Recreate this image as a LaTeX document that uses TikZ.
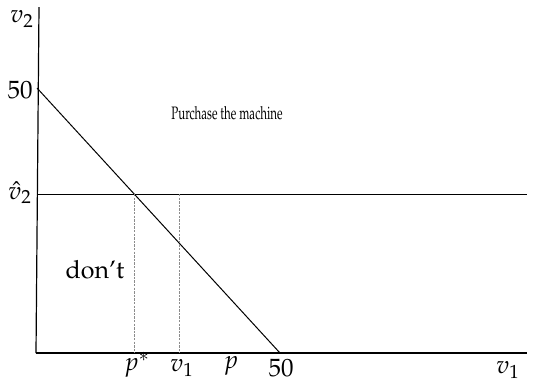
\documentclass[tikz,border=0pt]{standalone}
\usepackage[T1]{fontenc}
\usepackage{mathpazo}

\begin{document}
\begin{tikzpicture}[x=0.5pt,y=-0.5pt,
  axis/.style={line width=0.6pt},
  guide/.style={line width=0.4pt,black!45,dash pattern=on 1.2pt off 0.6pt},
  lbl/.style={inner sep=0pt,font=\fontsize{12.5}{14}\selectfont},
]
  \useasboundingbox (0,0) rectangle (539,382);
  \coordinate (O) at (36,353);
  \coordinate (ytop) at (39,7);
  \coordinate (xend) at (527,353);
  \coordinate (a) at (37,88);
  \coordinate (b) at (280,353);
  \coordinate (hl) at (37,194);
  \coordinate (hr) at (527,194);
  \coordinate (pstar) at (134.2,194);
  \coordinate (pstarb) at (134.2,353);
  \coordinate (vone) at (179,194);
  \coordinate (voneb) at (179,353);
  \draw[axis] (O) -- (ytop);
  \draw[axis] (O) -- (xend);
  \draw[line width=0.5pt] (a) -- (b);
  \draw[line width=0.5pt] (hl) -- (hr);
  \draw[guide] (pstar) -- (pstarb);
  \draw[guide] (vone) -- (voneb);
  \node[lbl] (ylab) at (22,19) {$v_2$};
  \node[lbl] (yfifty) at (20,90) {$50$};
  \node[lbl] (vhat) at (20,193) {$\hat{v}_2$};
  \node[lbl] (dont) at (95,270) {don't};
  \node[inner sep=0pt,font=\fontsize{9}{10}\selectfont,xscale=0.64,transform shape] (buy) at (227,113) {Purchase the machine};
  \node[lbl] (plab) at (137,365) {$p^*$};
  \node[lbl] (vonelab) at (182,368) {$v_1$};
  \node[lbl] (price) at (231,366) {$p$};
  \node[lbl] (xfifty) at (281,368) {$50$};
  \node[lbl] (xlab) at (508,370) {$v_1$};
\end{tikzpicture}
\end{document}
